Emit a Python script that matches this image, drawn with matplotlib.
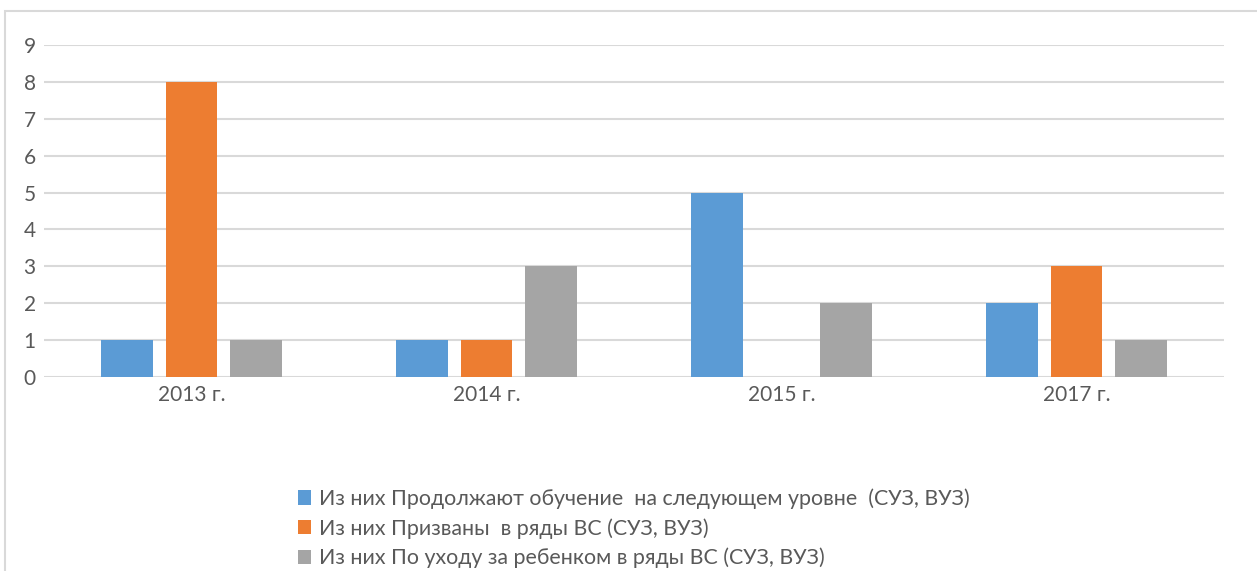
import matplotlib
matplotlib.use("Agg")
import matplotlib.pyplot as plt
import numpy as np
from matplotlib.patches import Patch, Rectangle

plt.rcParams['font.family'] = ['Lato', 'DejaVu Sans']

# данные
years = ["2013 г.", "2014 г.", "2015 г.", "2017 г."]
prodolzhayut = [1, 1, 5, 2]
prizvany = [8, 1, 0, 3]
po_uhodu = [1, 3, 2, 1]
series_names = [
    "Из них Продолжают обучение  на следующем уровне  (СУЗ, ВУЗ)",
    "Из них Призваны  в ряды ВС (СУЗ, ВУЗ)",
    "Из них По уходу за ребенком в ряды ВС (СУЗ, ВУЗ)",
]
colors = ["#5b9bd5", "#ed7d31", "#a5a5a5"]
txt = "#595959"
grid = "#d9d9d9"

W, H = 1257, 571
fig = plt.figure(figsize=(W / 100, H / 100), dpi=100)

# рамка диаграммы (обрезана справа и снизу)
fig.patches.append(Rectangle((5 / W, -0.05), 1.1, (H - 11) / H + 0.05,
                             transform=fig.transFigure, fill=False,
                             edgecolor=grid, linewidth=1.5))

ax = fig.add_axes([44 / W, (H - 377) / H, 1180 / W, (377 - 45) / H])
x = np.arange(len(years))
w = 0.176
step = 0.22
for i, (vals, c) in enumerate(zip([prodolzhayut, prizvany, po_uhodu], colors)):
    ax.bar(x + (i - 1) * step, vals, width=w, color=c, zorder=3)

ax.set_xlim(-0.5, len(years) - 0.5)
ax.set_ylim(0, 9)
ax.set_yticks(range(10))
ax.set_xticks(x)
ax.set_xticklabels(years)
ax.grid(axis="y", color=grid, linewidth=1.5, zorder=0)
for s in ax.spines.values():
    s.set_visible(False)
ax.tick_params(length=0, colors=txt, labelsize=15)
ax.tick_params(axis="y", pad=6)
ax.tick_params(axis="x", pad=6)

handles = [Patch(facecolor=c, edgecolor="none") for c in colors]
leg = fig.legend(handles, series_names, loc="upper left",
                 bbox_to_anchor=(289 / W, (H - 480) / H), frameon=False,
                 fontsize=15.4, handlelength=0.65, handleheight=0.65,
                 handletextpad=0.35, labelspacing=0.42, borderaxespad=0)
for t in leg.get_texts():
    t.set_color(txt)

fig.savefig("out.png", dpi=100)
